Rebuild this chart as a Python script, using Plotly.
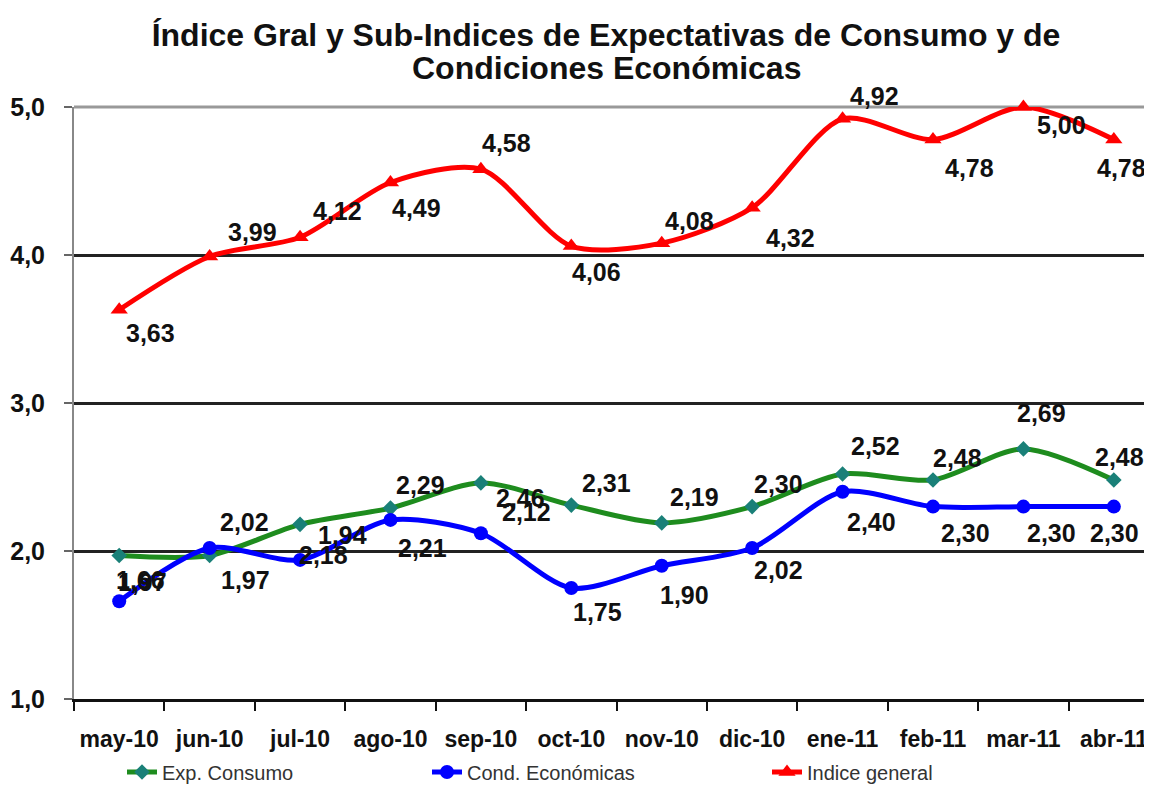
import plotly.graph_objects as go

months = ["may-10", "jun-10", "jul-10", "ago-10", "sep-10", "oct-10",
          "nov-10", "dic-10", "ene-11", "feb-11", "mar-11", "abr-11"]
exp_consumo = [1.97, 1.97, 2.18, 2.29, 2.46, 2.31, 2.19, 2.30, 2.52, 2.48, 2.69, 2.48]
cond_economicas = [1.66, 2.02, 1.94, 2.21, 2.12, 1.75, 1.90, 2.02, 2.40, 2.30, 2.30, 2.30]
indice_general = [3.63, 3.99, 4.12, 4.49, 4.58, 4.06, 4.08, 4.32, 4.92, 4.78, 5.00, 4.78]

y_ticks = [1, 2, 3, 4, 5]

title_line1 = "Índice Gral y Sub-Indices de Expectativas de Consumo y de"
title_line2 = "Condiciones Económicas"

# label pixel offsets (dx right, dy down)
off_green = [(23, 27), (36, 25), (23, 31), (30, -23), (40, 15), (35, -22),
             (33, -26), (26, -23), (33, -28), (25, -22), (18, -36), (6, -23)]
off_blue = [(21, -21), (35, -26), (42, -25), (32, 28), (46, -21), (26, 24),
            (23, 29), (26, 22), (29, 30), (33, 26), (28, 26), (1, 26)]
off_red = [(31, 23), (43, -24), (37, -26), (26, 26), (26, -26), (25, 26),
           (28, -22), (38, 30), (32, -23), (37, 28), (38, 18), (8, 28)]

FONT = "Liberation Sans, Arial, sans-serif"
W, H = 1144, 778

fig = go.Figure()

series = [
    ("Exp. Consumo", exp_consumo, "#1E8C1E", "diamond", "#1A8078", 12, "legend"),
    ("Cond. Económicas", cond_economicas, "#0000FF", "circle", "#0000FF", 14, "legend2"),
    ("Indice general", indice_general, "#FF0000", "triangle-up", "#FF0000", 15, "legend3"),
]
for name, vals, col, sym, mcol, msize, leg in series:
    fig.add_trace(go.Scatter(
        x=months, y=vals, name=name, mode="lines+markers",
        line=dict(color=col, width=5, shape="spline", smoothing=0.8),
        marker=dict(symbol=sym, color=mcol, size=msize, line=dict(width=0)),
        legend=leg, showlegend=True, cliponaxis=False,
    ))

annotations = []
for vals, offs in [(exp_consumo, off_green), (cond_economicas, off_blue),
                   (indice_general, off_red)]:
    for m, v, (dx, dy) in zip(months, vals, offs):
        annotations.append(dict(
            x=m, y=v, xref="x", yref="y", text=f"{v:.2f}".replace(".", ","),
            showarrow=False, xshift=dx, yshift=-dy,
            font=dict(family=FONT, size=25, color="#111111", weight="bold"),
        ))

# second title line
annotations.append(dict(
    text=title_line2, xref="paper", yref="paper", x=(598 - 66) / 1076,
    y=1 + (99 - 60) / 592, xanchor="center", yanchor="middle", showarrow=False,
    font=dict(family=FONT, size=32, color="#111111", weight="bold"),
))

legend_common = dict(
    orientation="h", xref="container", yref="container", yanchor="middle",
    y=1 - 764 / H, bgcolor="rgba(0,0,0,0)",
    font=dict(family=FONT, size=20, color="#333333"),
)

fig.update_layout(
    width=W, height=H,
    margin=dict(l=66, r=2, t=99, b=87),
    paper_bgcolor="white", plot_bgcolor="white",
    separators=",.",
    title=dict(
        text=title_line1, xref="container", yref="container",
        x=598 / W, xanchor="center", y=1 - 27 / H, yanchor="middle",
        font=dict(family=FONT, size=32, color="#111111", weight="bold"),
    ),
    xaxis=dict(
        type="category", range=[-0.5, 11.4], tickson="boundaries",
        showgrid=False, showline=True, linecolor="#111111", linewidth=3,
        ticks="outside", ticklen=9, tickwidth=2, tickcolor="#111111",
        ticklabelstandoff=17, tickangle=0, automargin=False,
        tickfont=dict(family=FONT, size=23, color="#111111", weight="bold"),
    ),
    yaxis=dict(
        range=[1, 5], tickvals=y_ticks, tickformat=".1f",
        showgrid=True, gridcolor="#222222", gridwidth=2.5,
        showline=True, linecolor="#888888", linewidth=2,
        ticks="outside", ticklen=8, tickwidth=2, tickcolor="#666666",
        ticklabelstandoff=14, zeroline=False, automargin=False,
        tickfont=dict(family=FONT, size=25, color="#111111", weight="bold"),
    ),
    shapes=[dict(type="line", xref="paper", yref="paper", x0=0, x1=1, y0=1, y1=1,
                 line=dict(color="#999999", width=3), layer="below")],
    annotations=annotations,
    legend=dict(x=114 / W, **legend_common),
    legend2=dict(x=419 / W, **legend_common),
    legend3=dict(x=759 / W, **legend_common),
)

fig.write_html("out.html")
